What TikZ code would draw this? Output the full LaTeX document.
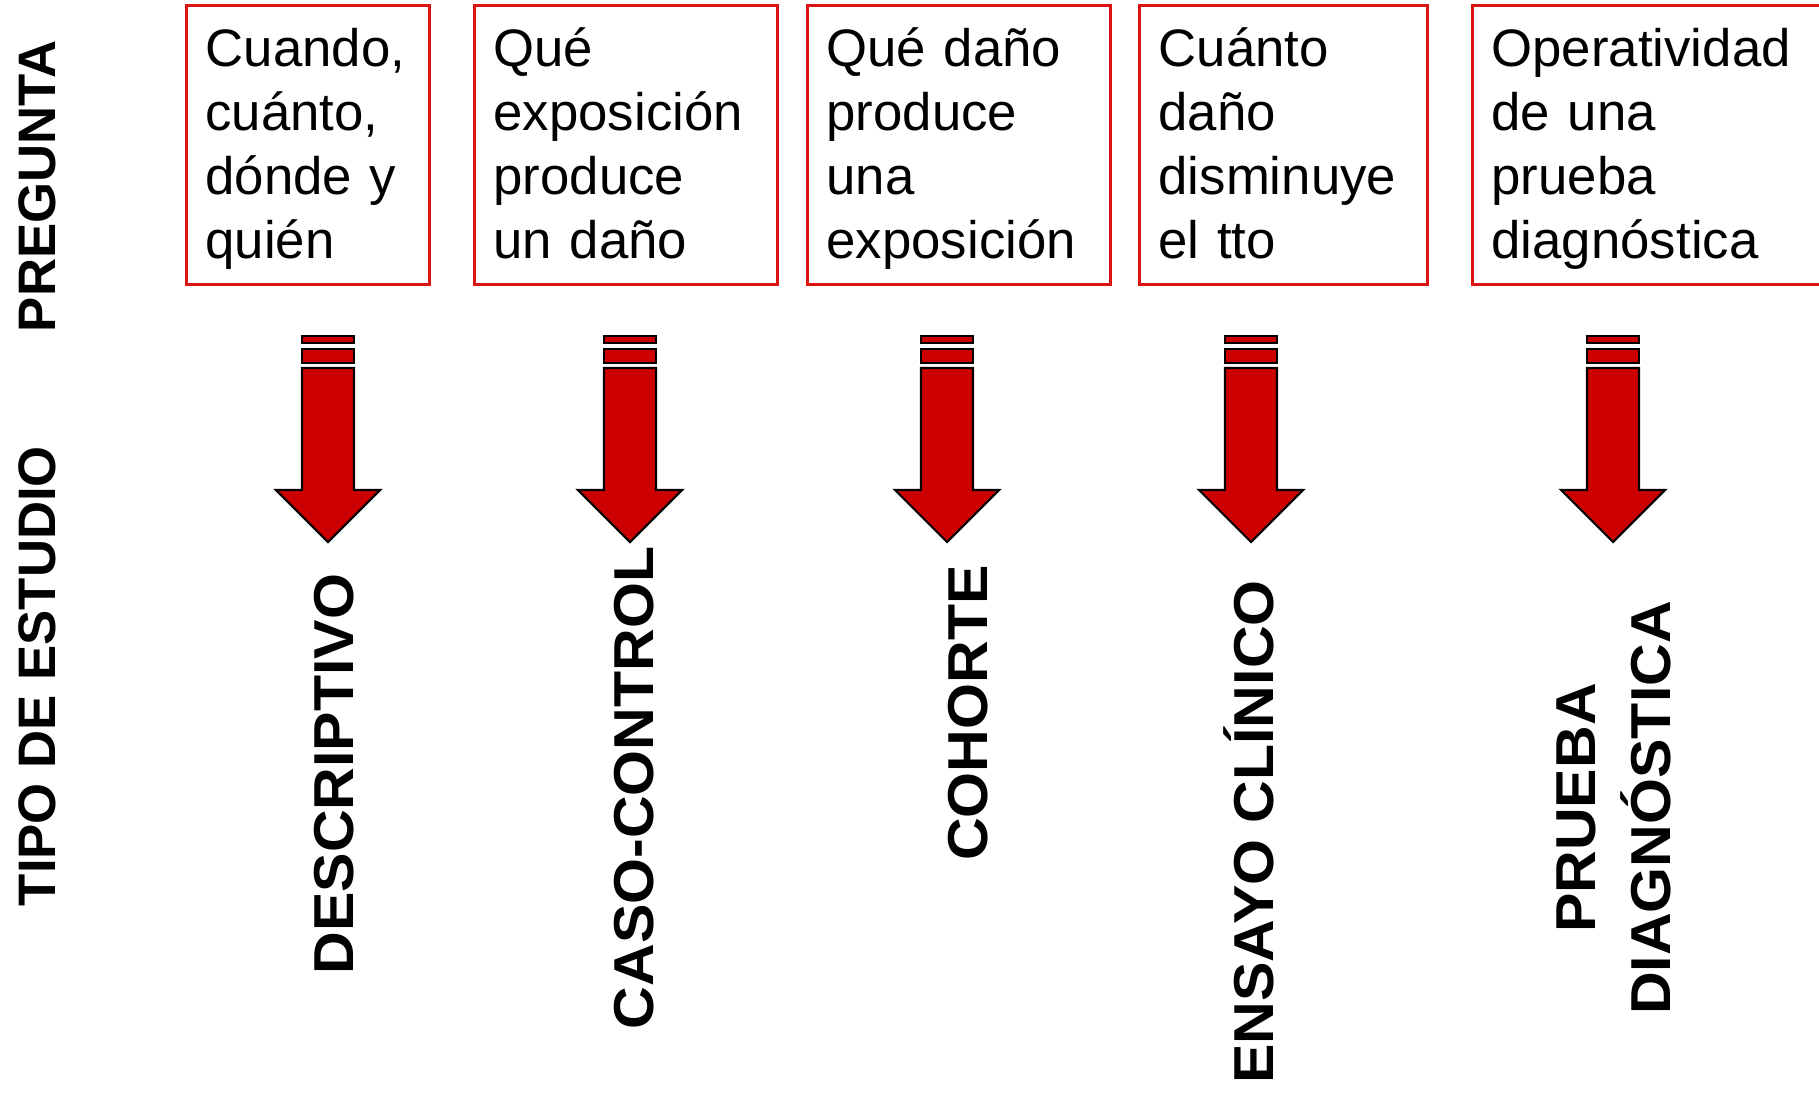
\documentclass[tikz,border=0pt]{standalone}
\usepackage{fontspec}
\setmainfont{Liberation Sans}
\usepackage{tikz}
\definecolor{boxred}{RGB}{218,18,18}
\definecolor{arrowred}{RGB}{204,0,0}

\begin{document}
\begin{tikzpicture}[x=0.01cm, y=-0.01cm,
  pregunta/.style={draw=boxred, line width=0.9pt, anchor=north west, align=left,
    inner xsep=0.19cm, minimum height=2.79cm, text height=12pt, text depth=56.5pt,
    font=\fontsize{15}{18.2}\selectfont},
  bloque/.style={fill=arrowred, draw=black, line width=0.6pt},
  tipo/.style={rotate=90, xscale=1.05, anchor=base, font=\bfseries\fontsize{16}{19}\selectfont},
  lado/.style={rotate=90, anchor=base, font=\bfseries\fontsize{15}{18}\selectfont}]
\useasboundingbox (0,0) rectangle (1819,1096);

\node [lado] (lp) at (55,186) {PREGUNTA};
\node [lado] (lt) at (55,676) {TIPO DE ESTUDIO};

\node [pregunta, text width=2.05cm] (p1) at (185,4) {Cuando,\\cuánto,\\dónde y\\quién};
\coordinate (f1) at (328,368);
\draw [bloque] (f1) ++(-26,0) -- ++(52,0) -- ++(0,122) -- ++(26,0) -- ++(-52,52) -- ++(-52,-52) -- ++(26,0) -- cycle;
\draw [bloque] (f1) ++(-26,-19) rectangle ++(52,14);
\draw [bloque] (f1) ++(-26,-32) rectangle ++(52,7);
\node [tipo] (t1) at (353,774) {DESCRIPTIVO};

\node [pregunta, text width=2.65cm] (p2) at (473,4) {Qué\\exposición\\produce\\un daño};
\coordinate (f2) at (630,368);
\draw [bloque] (f2) ++(-26,0) -- ++(52,0) -- ++(0,122) -- ++(26,0) -- ++(-52,52) -- ++(-52,-52) -- ++(26,0) -- cycle;
\draw [bloque] (f2) ++(-26,-19) rectangle ++(52,14);
\draw [bloque] (f2) ++(-26,-32) rectangle ++(52,7);
\node [tipo] (t2) at (653,788) {CASO-CONTROL};

\node [pregunta, text width=2.65cm] (p3) at (806,4) {Qué daño\\produce\\una\\exposición};
\coordinate (f3) at (947,368);
\draw [bloque] (f3) ++(-26,0) -- ++(52,0) -- ++(0,122) -- ++(26,0) -- ++(-52,52) -- ++(-52,-52) -- ++(26,0) -- cycle;
\draw [bloque] (f3) ++(-26,-19) rectangle ++(52,14);
\draw [bloque] (f3) ++(-26,-32) rectangle ++(52,7);
\node [tipo] (t3) at (987,713) {COHORTE};

\node [pregunta, text width=2.5cm] (p4) at (1138,4) {Cuánto\\daño\\disminuye\\el tto};
\coordinate (f4) at (1251,368);
\draw [bloque] (f4) ++(-26,0) -- ++(52,0) -- ++(0,122) -- ++(26,0) -- ++(-52,52) -- ++(-52,-52) -- ++(26,0) -- cycle;
\draw [bloque] (f4) ++(-26,-19) rectangle ++(52,14);
\draw [bloque] (f4) ++(-26,-32) rectangle ++(52,7);
\node [tipo] (t4) at (1273,832) {ENSAYO CLÍNICO};

\node [pregunta, text width=3.6cm] (p5) at (1471,4) {Operatividad\\de una\\prueba\\diagnóstica};
\coordinate (f5) at (1613,368);
\draw [bloque] (f5) ++(-26,0) -- ++(52,0) -- ++(0,122) -- ++(26,0) -- ++(-52,52) -- ++(-52,-52) -- ++(26,0) -- cycle;
\draw [bloque] (f5) ++(-26,-19) rectangle ++(52,14);
\draw [bloque] (f5) ++(-26,-32) rectangle ++(52,7);
\node [tipo] (t5a) at (1595,808) {PRUEBA};
\node [tipo] (t5b) at (1670,808) {DIAGNÓSTICA};
\end{tikzpicture}
\end{document}
